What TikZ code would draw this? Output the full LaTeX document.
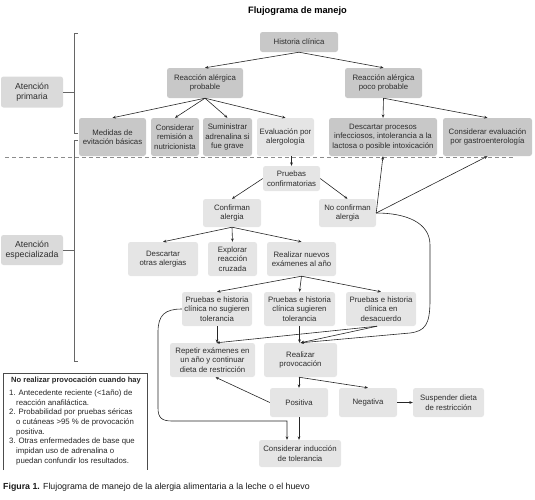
\documentclass[tikz,border=0pt]{standalone}
\usepackage{fontspec}
\setmainfont{Liberation Sans}
\usetikzlibrary{arrows.meta}
\definecolor{boxdk}{RGB}{200,200,200}
\definecolor{boxlt}{RGB}{229,229,229}
\definecolor{boxat}{RGB}{218,218,218}
\definecolor{txt}{RGB}{45,45,45}

\begin{document}
\begin{tikzpicture}[x=1pt,y=-1pt,
  >={Stealth[length=3.4pt,width=2.8pt]},
  every node/.style={font=\fontsize{7.8}{9.5}\selectfont,text=txt,inner sep=0pt,align=center},
  box/.style={rounded corners=2.5pt,fill=boxlt},
  dk/.style={box,fill=boxdk},
  lvl/.style={box,fill=boxat,font=\fontsize{8.7}{10.6}\selectfont},
  sz/.style 2 args={minimum width=#1pt,minimum height=#2pt},
  arr/.style={->,line width=0.6pt,draw=black!85},
  brk/.style={line width=0.9pt,draw=black!60},
  cut/.style={line width=1pt,draw=black!45,dash pattern=on 4pt off 3pt},
  nbox/.style={line width=0.9pt,draw=black!70}]

  \useasboundingbox (0,0) rectangle (535,499);

  \node[font=\bfseries\fontsize{9.3}{11}\selectfont,text=black] (tit) at (297.5,11.5) {Flujograma de manejo};

  % atencion primaria
  \node[dk,sz={78}{20}] (hc) at (299,42) {Historia clínica};
  \node[dk,sz={76}{30}] (rap) at (205,83) {Reacción alérgica\\probable};
  \node[dk,sz={77}{30}] (rapp) at (383.5,83) {Reacción alérgica\\poco probable};
  \node[dk,sz={67}{38}] (med) at (112.5,137) {Medidas de\\evitación básicas};
  \node[dk,sz={48}{38}] (rem) at (175,137) {Considerar\\remisión a\\nutricionista};
  \node[dk,sz={49}{38}] (adr) at (227.5,137) {Suministrar\\adrenalina si\\fue grave};
  \node[box,sz={57}{38}] (eva) at (285.5,137) {Evaluación por\\alergología};
  \node[dk,sz={108}{38}] (desc) at (383,137) {Descartar procesos\\infecciosos, intolerancia a la\\lactosa o posible intoxicación};
  \node[dk,sz={89}{38}] (gas) at (487.5,137) {Considerar evaluación\\por gastroenterología};

  % atencion especializada
  \node[box,sz={57}{25}] (pc) at (291.5,178.5) {Pruebas\\confirmatorias};
  \node[box,sz={58}{28}] (ca) at (232,213) {Confirman\\alergia};
  \node[box,sz={57}{28}] (nc) at (347.5,213) {No confirman\\alergia};
  \node[box,sz={70}{34}] (dot) at (163,259) {Descartar\\otras alergias};
  \node[box,sz={49}{34}] (exr) at (232.5,259) {Explorar\\reacción\\cruzada};
  \node[box,sz={69}{34}] (rne) at (301.5,259) {Realizar nuevos\\exámenes al año};
  \node[box,sz={70}{34}] (nst) at (217,309) {Pruebas e historia\\clínica no sugieren\\tolerancia};
  \node[box,sz={71}{34}] (stl) at (299.5,309) {Pruebas e historia\\clínica sugieren\\tolerancia};
  \node[box,sz={70}{34}] (dsa) at (381,309) {Pruebas e historia\\clínica en\\desacuerdo};
  \node[box,sz={85}{34}] (rep) at (212.5,360) {Repetir exámenes en\\un año y continuar\\dieta de restricción};
  \node[box,sz={73}{34}] (rpv) at (300.5,360) {Realizar\\provocación};
  \node[box,sz={58}{29}] (pos) at (299,402.5) {Positiva};
  \node[box,sz={58}{29}] (neg) at (368,402.5) {Negativa};
  \node[box,sz={71}{29}] (sus) at (448.5,402.5) {Suspender dieta\\de restricción};
  \node[box,sz={82}{27}] (ind) at (300,453.5) {Considerar inducción\\de tolerancia};

  % niveles
  \node[lvl,sz={62}{31}] (ap) at (32,92) {Atención\\primaria};
  \node[lvl,sz={62}{30}] (ae) at (32,250) {Atención\\especializada};
  \coordinate (b1t) at (74.5,33);
  \coordinate (b1b) at (74.5,133);
  \coordinate (b2t) at (74.5,140);
  \coordinate (b2b) at (74.5,361);
  \draw[brk] ([xshift=3pt]b1t) -- (b1t) -- (b1b) -- ([xshift=3pt]b1b);
  \draw[brk] ([xshift=3pt]b2t) -- (b2t) -- (b2b) -- ([xshift=3pt]b2b);
  \draw[brk] (ap.east) -- (ap.east -| b1t);
  \draw[brk] (ae.east) -- (ae.east -| b2t);
  \draw[cut] (5,157.5) -- (515,157.5);

  \draw[arr] (hc.south) -- (rap.north);
  \draw[arr] (hc.south) -- (rapp.north);
  \foreach \t in {med,rem,adr,eva}
    \draw[arr] (rap.south) -- (\t.north);
  \foreach \t in {desc,gas}
    \draw[arr] (rapp.south) -- (\t.north);
  \draw[arr] (eva.south -| pc.north) -- (pc.north);
  \draw[arr] (pc.west) -- (ca.north);
  \draw[arr] (pc.east) -- (nc.north);
  \draw[arr] (nc.east) -- (desc.south);
  \draw[arr] (nc.east) -- (gas.south);
  \draw[arr] (nc.east) .. controls (405,213) and (430,222) .. (430,245) -- (430,300)
    .. controls (430,325) and (425,331) .. (410,333) -- (rpv.north);
  \foreach \t in {dot,exr,rne}
    \draw[arr] (ca.south) -- (\t.north);
  \foreach \t in {nst,stl,dsa}
    \draw[arr] (rne.south) -- (\t.north);
  \draw[arr] (nst.south) -- (nst.south |- rep.north);
  \draw[arr] (stl.south) -- (stl.south |- rpv.north);
  \draw[arr] ([xshift=-4pt]dsa.south) -- ([xshift=4pt]rep.north);
  \draw[arr] ([xshift=-4pt]dsa.south) -- (rpv.north);
  \draw[arr] (nst.west) .. controls (165,309) and (158,315) .. (158,332) -- (158,408)
    .. controls (158,418) and (162,421) .. (172,421) -| ([xshift=-13pt]ind.north);
  \draw[arr] (pos.north |- rpv.south) -- (pos.north);
  \draw[arr] (pos.north |- rpv.south) -- (neg.north);
  \draw[arr] (neg.east) -- (sus.west);
  \draw[arr] (pos.west) -- ([xshift=3pt]rep.south);
  \draw[arr] (pos.south) -- (pos.south |- ind.north);

  % nota
  \draw[nbox] (3,470) |- (147,373) -- (147,470);
  \node[anchor=north west,align=left,text=black!85,font=\fontsize{7.8}{9.7}\selectfont] (note) at (9,377)
    {\hspace*{2pt}{\bfseries\fontsize{7.55}{9.7}\selectfont No realizar provocación cuando hay}\\[3pt]
     1. Antecedente reciente (<1año) de\\
     \hspace*{7pt}reacción anafiláctica.\\
     2. Probabilidad por pruebas séricas\\
     \hspace*{7pt}o cutáneas >95 \% de provocación\\
     \hspace*{7pt}positiva.\\
     3. Otras enfermedades de base que\\
     \hspace*{7pt}impidan uso de adrenalina o\\
     \hspace*{7pt}puedan confundir los resultados.};

  \node[anchor=west,text=black!90,font=\fontsize{8.8}{10}\selectfont] (cap) at (3,487)
    {\textbf{Figura 1.} Flujograma de manejo de la alergia alimentaria a la leche o el huevo};
\end{tikzpicture}
\end{document}
